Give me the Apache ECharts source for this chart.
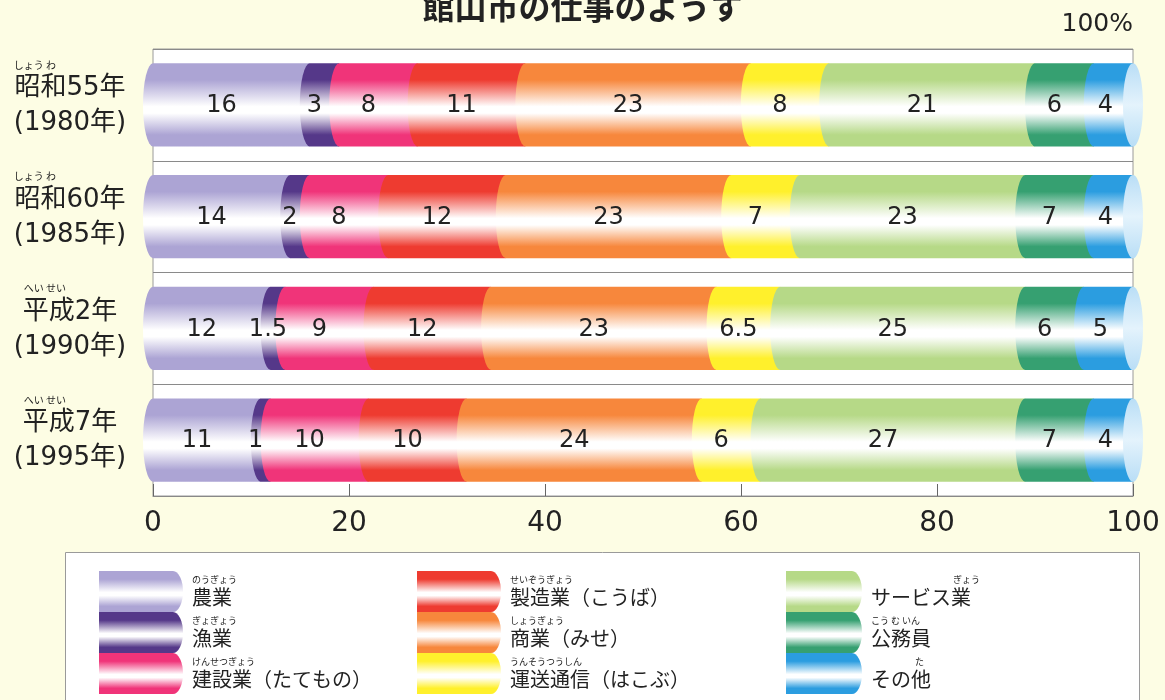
<!DOCTYPE html>
<html>
<head>
<meta charset="utf-8">
<script src="https://cdn.jsdelivr.net/npm/echarts@6/dist/echarts.min.js"></script>
<style>
  html, body { margin: 0; padding: 0; background: #fdfde4; }
  #chart { width: 1165px; height: 700px; }
</style>
</head>
<body>
<div id="chart"></div>
<script>
// ---- data ----
const titleText = '館山市の仕事のようす';
const eraYears = ['昭和55年', '昭和60年', '平成2年', '平成7年'];
const westernYears = ['1980年', '1985年', '1990年', '1995年'];
const eraRuby = ['しょう わ', 'しょう わ', 'へい せい', 'へい せい'];

const industries = ['農業', '漁業', '建設業（たてもの）', '製造業（こうば）', '商業（みせ）',
  '運送通信（はこぶ）', 'サービス業', '公務員', 'その他'];
const industryRuby = ['のうぎょう', 'ぎょぎょう', 'けんせつぎょう', 'せいぞうぎょう', 'しょうぎょう',
  'うんそうつうしん', 'ぎょう', 'こう む いん', 'た'];

// share of workers (%) for 1980, 1985, 1990, 1995
const agriculture   = [16, 14, 12, 11];
const fishery       = [3, 2, 1.5, 1];
const construction  = [8, 8, 9, 10];
const manufacturing = [11, 12, 12, 10];
const commerce      = [23, 23, 23, 24];
const transport     = [8, 7, 6.5, 6];
const service       = [21, 23, 25, 27];
const civilService  = [6, 7, 6, 7];
const others        = [4, 4, 5, 4];

const topTickLabel = '100%';

// ---- styling ----
const palette = ['#aca4d4', '#553889', '#f03479', '#ee3b30', '#f7873c',
  '#fff02c', '#b6d987', '#36a071', '#2b9de0'];
const rubyOffset = { 'サービス業': 'fS', 'その他': 'fT' };

function cylinder(color) {
  return new echarts.graphic.LinearGradient(0, 0, 0, 1, [
    { offset: 0, color: color },
    { offset: 0.2, color: color },
    { offset: 0.52, color: '#ffffff' },
    { offset: 0.6, color: '#ffffff' },
    { offset: 0.86, color: color },
    { offset: 1, color: color }
  ]);
}
const capFill = new echarts.graphic.LinearGradient(0, 0, 0, 1, [
  { offset: 0, color: '#b9def6' },
  { offset: 0.5, color: '#e4f3fc' },
  { offset: 1, color: '#b9def6' }
]);

const valueSets = [agriculture, fishery, construction, manufacturing, commerce,
  transport, service, civilService, others];

function makeRenderer(colorIndex, isLast) {
  return function (params, api) {
    const cat = api.value(0);
    const p0 = api.coord([api.value(1), cat]);
    const p1 = api.coord([api.value(2), cat]);
    const h = api.size([0, 1])[1] * 0.745;
    const rx = 10, ry = h / 2;
    const x0 = p0[0], x1 = p1[0], cy = p0[1];
    const top = cy - ry, bot = cy + ry;
    const children = [{
      type: 'path',
      shape: { pathData: `M${x0},${top}L${x1},${top}L${x1},${bot}L${x0},${bot}A${rx},${ry} 0 0 1 ${x0},${top}Z` },
      style: { fill: cylinder(palette[colorIndex]) }
    }];
    if (isLast) {
      children.push({ type: 'ellipse', shape: { cx: x1, cy: cy, rx: rx, ry: ry }, style: { fill: capFill } });
    }
    const lx = isLast ? (x0 - rx + x1 - rx * 0.6) / 2 : (x0 + x1) / 2 - rx;
    children.push({
      type: 'text',
      z2: 100,
      style: {
        text: String(api.value(3)), x: lx, y: cy + 1,
        align: 'center', verticalAlign: 'middle',
        fontSize: 24, fontFamily: 'DejaVu Sans', fill: '#222'
      }
    });
    return { type: 'group', children: children };
  };
}

const runningTotal = eraYears.map(() => 0);
const series = industries.map((name, k) => {
  const data = valueSets[k].map((v, i) => {
    const start = runningTotal[i];
    runningTotal[i] = start + v;
    return [i, start, start + v, v];
  });
  return {
    type: 'custom',
    name: name,
    xAxisIndex: 0,
    yAxisIndex: 0,
    encode: { x: [1, 2], y: 0 },
    itemStyle: { color: cylinder(palette[k]) },
    renderItem: makeRenderer(k, k === industries.length - 1),
    data: data
  };
});

const legendLefts = [99, 417, 786];
const legendWidths = [84, 84, 76];
const legends = [0, 1, 2].map(col => {
  const w = legendWidths[col];
  return {
    data: industries.slice(col * 3, col * 3 + 3),
    orient: 'vertical',
    left: legendLefts[col],
    top: 571,
    height: 128,
    padding: 0,
    itemWidth: w,
    itemHeight: 41,
    itemGap: 0,
    selectedMode: false,
    icon: `path://M0,0H${w - 10}A10,20.5 0 0 1 ${w - 10},41H0Z`,
    formatter: name => {
      const i = industries.indexOf(name);
      const fs = rubyOffset[name] || 'f';
      return `{${fs}|${industryRuby[i]}}\n{n|${name}}`;
    },
    textStyle: {
      color: '#222',
      fontFamily: 'Noto Sans CJK JP',
      padding: [0, 0, 0, 4],
      rich: {
        f: { fontSize: 9, lineHeight: 12, color: '#222', fontFamily: 'Noto Sans CJK JP' },
        fS: { fontSize: 9, lineHeight: 12, color: '#222', fontFamily: 'Noto Sans CJK JP', padding: [0, 0, 0, 82] },
        fT: { fontSize: 9, lineHeight: 12, color: '#222', fontFamily: 'Noto Sans CJK JP', padding: [0, 0, 0, 44] },
        n: { fontSize: 20, lineHeight: 24, color: '#222', fontFamily: 'Noto Sans CJK JP' }
      }
    }
  };
});

const chart = echarts.init(document.getElementById('chart'), null, { renderer: 'canvas' });
chart.setOption({
  backgroundColor: '#fdfde4',
  animation: false,
  title: {
    text: titleText,
    left: 'center',
    top: -14,
    textStyle: { fontSize: 32, fontWeight: 'bold', color: '#222', fontFamily: 'Noto Sans CJK JP' }
  },
  graphic: [{
    type: 'rect',
    z: -1,
    shape: { x: 65.5, y: 552.5, width: 1074, height: 170 },
    style: { fill: '#ffffff', stroke: '#9a9a9a', lineWidth: 1 }
  }],
  legend: legends,
  grid: {
    left: 153, right: 32, top: 49, bottom: 204,
    show: true, backgroundColor: '#ffffff', borderColor: '#9a9a9a', borderWidth: 1
  },
  xAxis: [{
    type: 'value', min: 0, max: 100, interval: 20, position: 'bottom',
    axisLine: { show: true, lineStyle: { color: '#888' } },
    axisTick: { show: true, inside: true, length: 12, lineStyle: { color: '#666' } },
    splitLine: { show: false },
    axisLabel: { fontSize: 28, fontFamily: 'DejaVu Sans', color: '#222', margin: 14 }
  }, {
    type: 'value', min: 0, max: 100, interval: 20, position: 'top',
    axisLine: { show: false }, axisTick: { show: false }, splitLine: { show: false },
    axisLabel: {
      fontSize: 25, fontFamily: 'DejaVu Sans', color: '#222', margin: 12, align: 'right',
      formatter: v => (v === 100 ? topTickLabel : '')
    }
  }],
  yAxis: {
    type: 'category',
    inverse: true,
    data: eraYears,
    axisLine: { show: false },
    axisTick: { show: false },
    splitLine: { show: true, lineStyle: { color: '#8a8a8a', width: 1 } },
    axisLabel: {
      margin: 83,
      align: 'center',
      padding: [0, 0, 10, 0],
      color: '#222',
      formatter: (value, idx) => {
        const short = value.length < 5;
        return `{${short ? 'f2' : 'f'}|${eraRuby[idx]}}\n{n|${value}}\n{y|(${westernYears[idx]})}`;
      },
      rich: {
        f: { fontSize: 10, lineHeight: 13, align: 'left', color: '#222', fontFamily: 'Noto Sans CJK JP' },
        f2: { fontSize: 10, lineHeight: 13, align: 'left', color: '#222', fontFamily: 'Noto Sans CJK JP', padding: [0, 0, 0, 10] },
        n: { fontSize: 26, lineHeight: 34, color: '#222', fontFamily: "'DejaVu Sans', 'Noto Sans CJK JP'" },
        y: { fontSize: 26, lineHeight: 36, color: '#222', fontFamily: "'DejaVu Sans', 'Noto Sans CJK JP'" }
      }
    }
  },
  series: series
});
</script>
</body>
</html>
